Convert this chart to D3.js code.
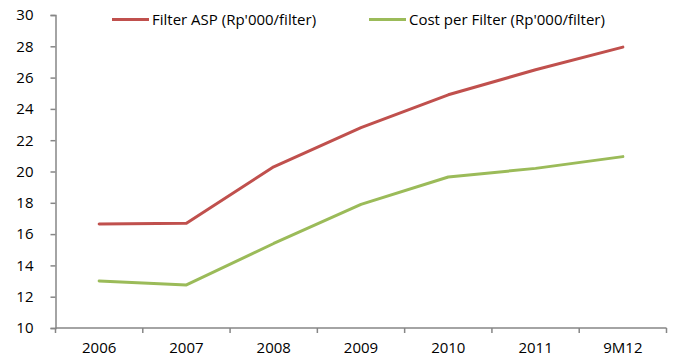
<!DOCTYPE html>
<html>
<head>
<meta charset="utf-8">
<script src="https://cdn.jsdelivr.net/npm/d3@7"></script>
<style>
  html, body { margin: 0; padding: 0; background: #fff; }
  svg text { font-family: "Open Sans", Lato, sans-serif; fill: #000; }
</style>
</head>
<body>
<svg id="chart" width="674" height="360"></svg>
<script>
const categories = ["2006", "2007", "2008", "2009", "2010", "2011", "9M12"];
const filterAsp = [16.65, 16.7, 20.3, 22.8, 24.9, 26.5, 27.95];
const costPerFilter = [13.0, 12.75, 15.4, 17.9, 19.65, 20.2, 20.95];
const yTicks = [10, 12, 14, 16, 18, 20, 22, 24, 26, 28, 30];
const seriesNames = ["Filter ASP (Rp'000/filter)", "Cost per Filter (Rp'000/filter)"];
const seriesColors = ["#C0504D", "#9BBB59"];

const svg = d3.select("#chart");
const plotLeft = 55.5, plotRight = 666.5, plotTop = 15, plotBottom = 328;
const fontSize = 15;

const x = d3.scaleBand().domain(categories).range([plotLeft, plotRight]);
const y = d3.scaleLinear().domain([10, 30]).range([plotBottom, plotTop]);

const axisColor = "#868686";

// y axis
const yAxis = svg.append("g")
  .attr("transform", `translate(${plotLeft},0)`)
  .call(d3.axisLeft(y).tickValues(yTicks).tickSize(5).tickPadding(17));
yAxis.select(".domain").attr("stroke", axisColor).attr("stroke-width", 1.5);
yAxis.selectAll(".tick line").attr("stroke", axisColor).attr("stroke-width", 1.5);
yAxis.selectAll("text").attr("font-size", fontSize).attr("fill", "#000");

// x axis
const xAxis = svg.append("g")
  .attr("transform", `translate(0,${plotBottom})`)
  .call(d3.axisBottom(x).tickSize(0).tickPadding(14));
xAxis.select(".domain").attr("stroke", axisColor).attr("stroke-width", 1.5)
  .attr("d", `M${plotLeft},0H${plotRight}`);
xAxis.selectAll(".tick line").remove();
xAxis.selectAll("text").attr("font-size", fontSize).attr("fill", "#000");
// category separators below the axis
const sepX = categories.map(c => x(c)).concat([x.range()[1]]);
xAxis.selectAll(".sep").data(sepX).enter().append("line")
  .attr("class", "sep")
  .attr("x1", d => d).attr("x2", d => d)
  .attr("y1", 0).attr("y2", 5)
  .attr("stroke", axisColor).attr("stroke-width", 1.5);

// lines
const line = d3.line()
  .x((d, i) => x(categories[i]) + x.bandwidth() / 2)
  .y(d => y(d));

[filterAsp, costPerFilter].forEach((vals, k) => {
  svg.append("path")
    .datum(vals)
    .attr("fill", "none")
    .attr("stroke", seriesColors[k])
    .attr("stroke-width", 3)
    .attr("stroke-linejoin", "round")
    .attr("stroke-linecap", "round")
    .attr("d", line);
});

// legend
const legendX = [112, 369];
legendX.forEach((lx, k) => {
  const g = svg.append("g").attr("transform", `translate(${lx},19.5)`);
  g.append("line").attr("x1", 0).attr("x2", 37).attr("y1", 0).attr("y2", 0)
    .attr("stroke", seriesColors[k]).attr("stroke-width", 3);
  g.append("text").attr("x", 40).attr("y", 5.5).attr("font-size", fontSize)
    .text(seriesNames[k]);
});
</script>
</body>
</html>
